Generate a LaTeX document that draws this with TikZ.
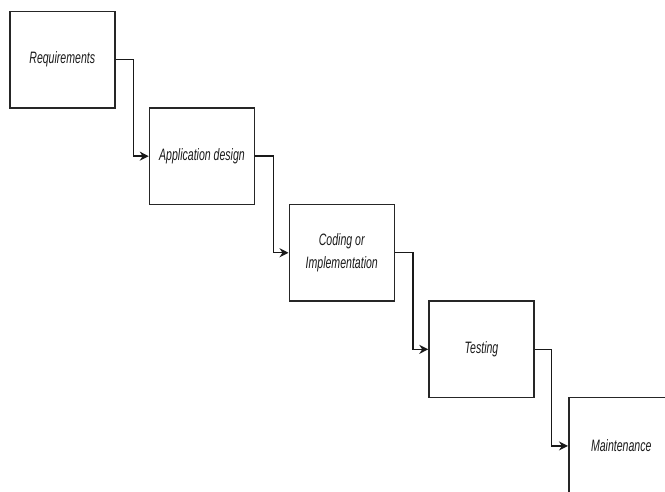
\documentclass[tikz,border=0pt]{standalone}
\usepackage{fontspec}
\setmainfont{Liberation Sans}
\usetikzlibrary{arrows.meta,positioning}

\tikzset{
  stage/.style={draw=black!85, line width=1.5pt, minimum width=105pt,
    minimum height=96.6pt, inner sep=0pt, anchor=north west},
  label/.style={xscale=0.64, transform shape, align=center,
    font=\fontsize{16.5}{23}\selectfont\itshape, text=black!90},
  flow/.style={draw=black!90, line width=1.4pt,
    -{Stealth[length=9pt,width=9pt]}},
}

\begin{document}
\begin{tikzpicture}[x=1pt, y=-1pt]
  \clip (0,0) rectangle (665,491);

  % process stages, stepping down to the right
  \node[stage] (req)  at (9,10.5)      {};
  \node[stage] (des)  at (148.75,107.1) {};
  \node[stage] (code) at (288.5,203.7)  {};
  \node[stage] (test) at (428.25,300.3) {};
  \node[stage] (main) at (568,396.9)    {};

  \node[label] (treq)  at (req.center)  {Requirements};
  \node[label] (tdes)  at (des.center)  {Application design};
  \node[label] (tcode) at (code.center) {Coding or\\Implementation};
  \node[label] (ttest) at (test.center) {Testing};
  \node[label] (tmain) at (main.center) {Maintenance};

  % elbow connectors between consecutive stages
  \draw[flow] (req.east)  -- ++(18,0) |- (des.west);
  \draw[flow] (des.east)  -- ++(18,0) |- (code.west);
  \draw[flow] (code.east) -- ++(18,0) |- (test.west);
  \draw[flow] (test.east) -- ++(17,0) |- (main.west);
\end{tikzpicture}
\end{document}
